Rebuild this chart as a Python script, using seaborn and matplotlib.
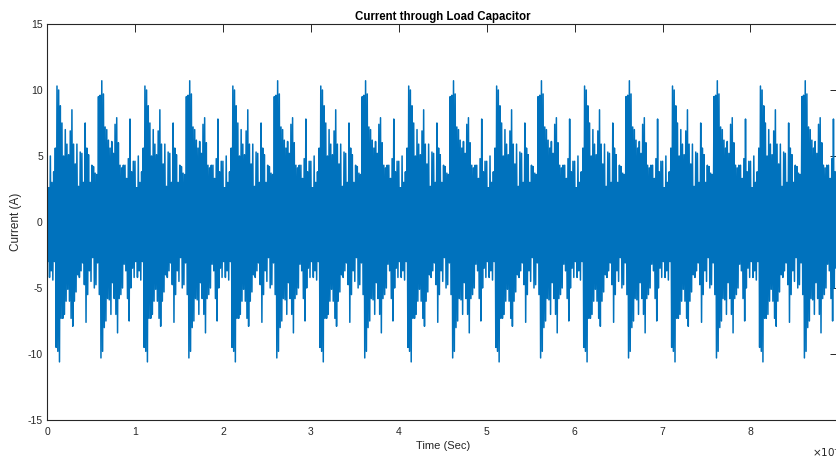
import numpy as np
import matplotlib
matplotlib.use("Agg")
import matplotlib.pyplot as plt
import seaborn as sns
from matplotlib.ticker import FuncFormatter

# Envelope of one 1 ms period (two bursts),
# 53 samples per period; the waveform repeats nine times.
SAMPLES_PER_MS = 53
N_PERIODS = 9
UPPER = [4.6, 2.6, 5.0, 3.0, 3.8, 5.6, 10.3, 10.0, 8.8, 7.5,
         5.0, 7.0, 5.9, 5.1, 6.9, 8.5, 5.9, 4.4, 5.9, 2.7,
         5.3, 5.2, 3.0, 7.5, 5.6, 5.1, 3.0, 4.3, 4.2, 3.7,
         3.6, 9.5, 9.6, 10.7, 9.7, 7.2, 7.0, 6.2, 5.6, 6.1,
         5.2, 7.4, 7.9, 6.0, 4.3, 4.1, 4.3, 4.3, 3.3, 4.8,
         7.8, 3.8, 4.6]
LOWER = [-3.0, -4.2, -3.7, -4.4, -3.0, -9.5, -9.8, -10.6, -7.3, -7.3,
         -7.0, -6.0, -5.1, -6.0, -7.3, -7.9, -6.0, -5.3, -4.0, -4.2,
         -3.7, -3.1, -4.75, -7.6, -5.5, -3.7, -4.5, -2.7, -5.0, -4.75,
         -3.1, -5.5, -10.3, -9.8, -8.0, -7.5, -5.8, -5.9, -7.0, -4.6,
         -5.8, -7.0, -8.4, -5.8, -5.5, -5.0, -3.2, -3.7, -5.8, -7.5,
         -5.0, -3.5, -4.2]

X_TICKS = list(range(0, 10))          # in units of 1e-3 s
Y_TICKS = [-15, -10, -5, 0, 5, 10, 15]

BLUE = "#0072BD"
INK = "#262626"

upper = np.tile(UPPER, N_PERIODS)
lower = np.tile(LOWER, N_PERIODS)
t_hi = np.arange(len(upper)) / SAMPLES_PER_MS
t_lo = t_hi + 0.5 / SAMPLES_PER_MS
time_ms = np.empty(2 * len(upper))
current = np.empty(2 * len(upper))
time_ms[0::2], time_ms[1::2] = t_hi, t_lo
current[0::2], current[1::2] = upper, lower

sns.set_theme(style="white")
plt.rcParams["font.family"] = ["Liberation Sans", "DejaVu Sans"]
plt.rcParams["axes.unicode_minus"] = False

fig = plt.figure(figsize=(8.37, 4.57), dpi=100)
ax = fig.add_axes([0.0562, 0.081, 0.9455, 0.8665])

sns.lineplot(x=time_ms, y=current, ax=ax, color=BLUE, lw=1.1,
             estimator=None, sort=False)

ax.set_xlim(X_TICKS[0], X_TICKS[-1])
ax.set_ylim(Y_TICKS[0], Y_TICKS[-1])
ax.set_xticks(X_TICKS)
ax.xaxis.set_major_formatter(FuncFormatter(lambda v, p: f"{v:.0f}"))
ax.set_yticks(Y_TICKS)

for sp in ax.spines.values():
    sp.set_color(INK)
    sp.set_linewidth(0.8)
ax.tick_params(direction="in", length=5.5, width=0.7, colors=INK,
               labelsize=7.5, top=True, right=True)
ax.tick_params(axis="x", pad=5)
ax.tick_params(axis="y", pad=3)

ax.set_title("Current through Load Capacitor", fontsize=8.3,
             fontweight="bold", color="black", pad=3)
ax.set_xlabel("Time (Sec)", fontsize=8, color=INK, labelpad=3)
ax.set_ylabel("Current (A)", fontsize=8.5, color=INK, labelpad=4)

fig.text(812 / 837, 1 - 452 / 457, r"$\times10^{-3}$", fontsize=7.5,
         color=INK, ha="left", va="center")

fig.savefig("out.png", dpi=100, facecolor="white")
